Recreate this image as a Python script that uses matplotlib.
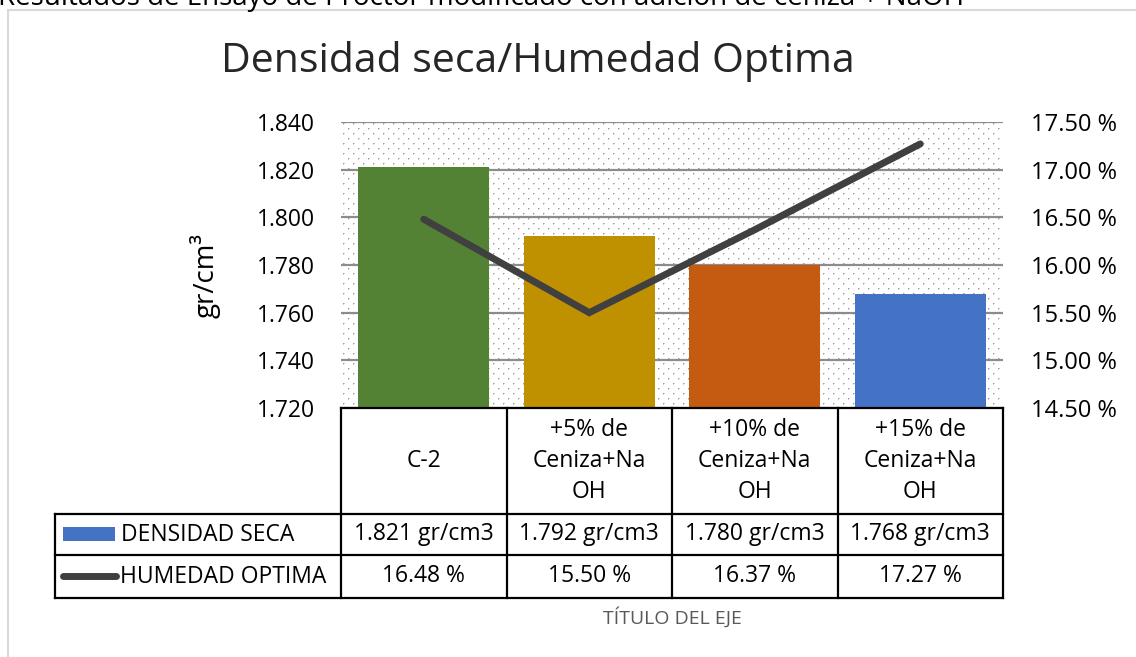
import matplotlib
matplotlib.use("Agg")
import matplotlib.pyplot as plt
from matplotlib.patches import Rectangle
from matplotlib.lines import Line2D
import numpy as np

plt.rcParams['font.family'] = ['Open Sans', 'DejaVu Sans']

# ---------------- data ----------------
categories = ["C-2", "+5% de\nCeniza+Na\nOH", "+10% de\nCeniza+Na\nOH", "+15% de\nCeniza+Na\nOH"]
densidad = [1.821, 1.792, 1.780, 1.768]
humedad = [16.48, 15.50, 16.37, 17.27]
bar_colors = ["#548235", "#BF9000", "#C55A11", "#4472C4"]
left_ticks = [1.720, 1.740, 1.760, 1.780, 1.800, 1.820, 1.840]
right_ticks = [14.50, 15.00, 15.50, 16.00, 16.50, 17.00, 17.50]
densidad_labels = ["1.821 gr/cm3", "1.792 gr/cm3", "1.780 gr/cm3", "1.768 gr/cm3"]
humedad_labels = ["16.48 %", "15.50 %", "16.37 %", "17.27 %"]
series_names = ["DENSIDAD SECA", "HUMEDAD OPTIMA"]
title = "Densidad seca/Humedad Optima"
xlabel = "TÍTULO DEL EJE"
ylabel = "gr/cm³"
top_text = "Resultados de Ensayo de Proctor modificado con adición de ceniza + NaOH"

W, H = 1136, 657
fig = plt.figure(figsize=(W / 100, H / 100), dpi=100)
fig.patch.set_facecolor("white")

def fx(px):
    return px / W

def fy(py):
    return 1 - py / H

# chart frame
fig.add_artist(Rectangle((fx(8), fy(700)), fx(1200), fy(10) - fy(700),
                         transform=fig.transFigure, fill=False,
                         edgecolor="#D9D9D9", lw=1.5))
fig.text(fx(-2), fy(5), top_text, fontsize=20, ha="left", va="baseline", color="black")

ax_l, ax_r, ax_t, ax_b = 341, 1003, 122, 408
ax = fig.add_axes([fx(ax_l), fy(ax_b), fx(ax_r - ax_l), fy(ax_t) - fy(ax_b)])
x = np.arange(len(categories))
ax.set_xlim(-0.5, len(categories) - 0.5)
ax.set_ylim(left_ticks[0], left_ticks[-1])

# dotted background texture (staggered dot lattice)
pw, ph = ax_r - ax_l, ax_b - ax_t
tex = np.ones((ph, pw, 3))
for r in range(1, ph, 5):
    off = 2 if (r // 5) % 2 == 0 else 7
    for c in range(off, pw, 10):
        tex[r, c] = 0.62
        if c + 1 < pw:
            tex[r, c + 1] = 0.80
        if r + 1 < ph:
            tex[r + 1, c] = 0.80
ax.imshow(tex, extent=(0, 1, 0, 1), transform=ax.transAxes, aspect="auto",
          interpolation="nearest", zorder=0)

fs = 16.5
ax.set_yticks(left_ticks)
ax.set_yticklabels([f"{v:.3f}" for v in left_ticks])
ax.set_xticks([])
ax.set_xlim(-0.5, len(categories) - 0.5)
ax.set_ylim(left_ticks[0], left_ticks[-1])
ax.grid(axis="y", color="#8C8C8C", lw=1.6, zorder=1)
ax.set_axisbelow(True)
for s in ax.spines.values():
    s.set_visible(False)
ax.tick_params(axis="y", length=0, pad=19, labelsize=fs)

ax.bar(x, densidad, width=0.79, color=bar_colors, zorder=2)

ax2 = ax.twinx()
ax2.set_ylim(right_ticks[0], right_ticks[-1])
ax2.set_yticks(right_ticks)
ax2.set_yticklabels([f"{v:.2f} %" for v in right_ticks])
ax2.tick_params(axis="y", length=0, pad=20, labelsize=17)
for s in ax2.spines.values():
    s.set_visible(False)
ax2.plot(x, humedad, color="#404040", lw=5, solid_capstyle="round",
         solid_joinstyle="miter", zorder=3)

# title and labels
fig.text(fx(538), fy(62), title, fontsize=29.5, ha="center", va="center", color="#262626")
fig.text(fx(205), fy(276), ylabel, fontsize=20, rotation=90, ha="center", va="center")

# ---------------- data table ----------------
tr = ax.get_xaxis_transform()
def ay(py):
    return (ax_b - py) / (ax_b - ax_t)

x0 = -0.5 + (55 - ax_l) / ((ax_r - ax_l) / len(categories))
y_top, y_h, y_r1, y_r2 = ay(408), ay(514), ay(555), ay(598)
lk = dict(color="black", lw=1.6, transform=tr, clip_on=False, zorder=5)
for xv in np.arange(len(categories) + 1) - 0.5:
    ax.add_line(Line2D([xv, xv], [y_top, y_r2], **lk))
ax.add_line(Line2D([x0, x0], [y_h, y_r2], **lk))
ax.add_line(Line2D([-0.5, len(categories) - 0.5], [y_top, y_top], **lk))
for yy in (y_h, y_r1, y_r2):
    ax.add_line(Line2D([x0, len(categories) - 0.5], [yy, yy], **lk))

for i, c in enumerate(categories):
    ax.text(i, (y_top + y_h) / 2, c, transform=tr, ha="center", va="center",
            fontsize=fs, linespacing=1.38, clip_on=False)
    ax.text(i, (y_h + y_r1) / 2, densidad_labels[i], transform=tr, ha="center",
            va="center", fontsize=fs, clip_on=False)
    ax.text(i, (y_r1 + y_r2) / 2, humedad_labels[i], transform=tr, ha="center",
            va="center", fontsize=fs, clip_on=False)

# legend keys inside table
fig.add_artist(Rectangle((fx(63), fy(541)), fx(52), fy(527) - fy(541),
                         transform=fig.transFigure, facecolor="#4472C4", lw=0))
fig.add_artist(Line2D([fx(63), fx(116)], [fy(576), fy(576)], transform=fig.transFigure,
                      color="#404040", lw=5, solid_capstyle="round"))
fig.text(fx(121), fy(535), series_names[0], fontsize=fs, ha="left", va="center")
fig.text(fx(120), fy(577), series_names[1], fontsize=fs, ha="left", va="center")

fig.text(fx(672), fy(617), xlabel, fontsize=14, ha="center", va="center", color="#595959")

fig.savefig("out.png", dpi=100)
